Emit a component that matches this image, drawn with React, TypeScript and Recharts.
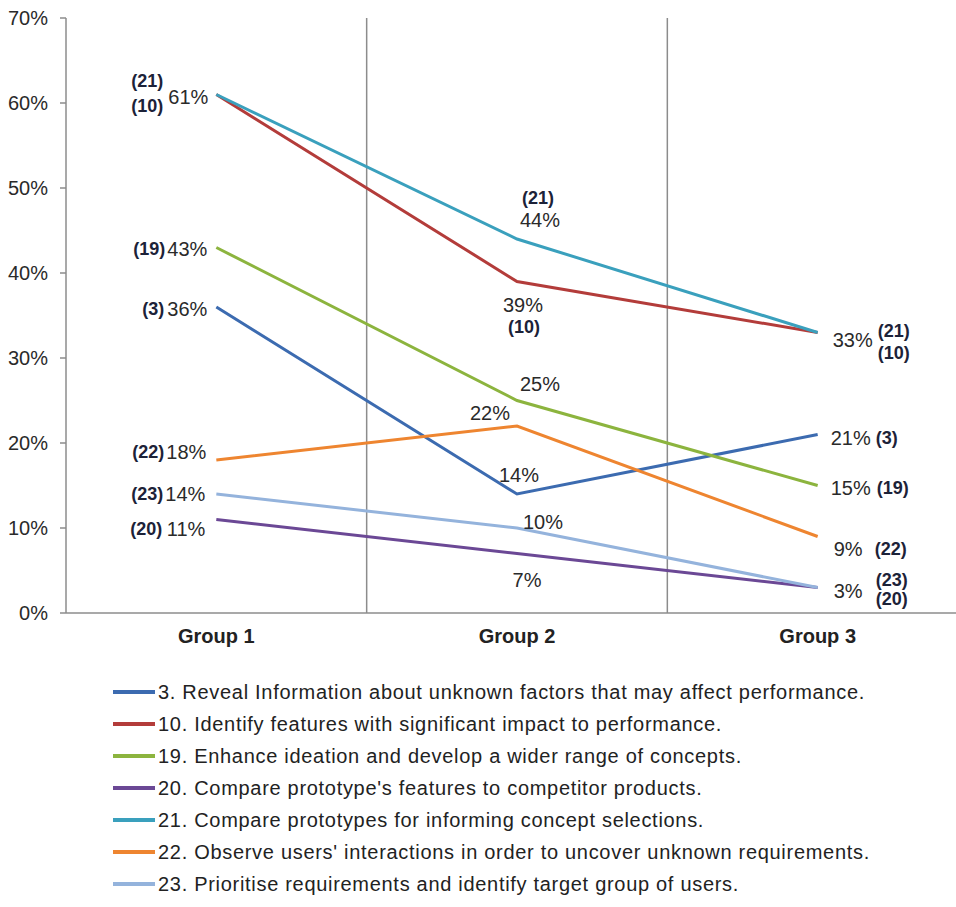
import { LineChart, Line, XAxis, YAxis, ReferenceLine, Legend, LabelList } from "recharts";

const groups = ["Group 1", "Group 2", "Group 3"];
const yTicks = [0, 10, 20, 30, 40, 50, 60, 70];

const s3 = [36, 14, 21];
const s10 = [61, 39, 33];
const s19 = [43, 25, 15];
const s20 = [11, 7, 3];
const s21 = [61, 44, 33];
const s22 = [18, 22, 9];
const s23 = [14, 10, 3];

const ids = ["3", "10", "19", "20", "21", "22", "23"];
const names = [
  "3. Reveal Information about unknown factors that may affect performance.",
  "10. Identify features with significant impact to performance.",
  "19. Enhance ideation and develop a wider range of concepts.",
  "20. Compare prototype's features to competitor products.",
  "21. Compare prototypes for informing concept selections.",
  "22. Observe users' interactions in order to uncover unknown requirements.",
  "23. Prioritise requirements and identify target group of users.",
];
const colors = ["#3c6bb0", "#b33c3a", "#8cb43e", "#6b4895", "#3aa0bd", "#ee8530", "#94b3dc"];
const values = [s3, s10, s19, s20, s21, s22, s23];

const data = groups.map((g, i) => {
  const row: Record<string, number | string> = { x: i + 0.5, name: g };
  ids.forEach((id, k) => {
    row["s" + id] = values[k][i];
  });
  return row;
});

type Place = [number, number, "start" | "middle" | "end"] | null;
// label placement per series, per group: [value label, id label]
const placements: Record<string, [Place, Place][]> = {
  "3": [[[-9, 2, "end"], [-52, 2, "end"]], [[2, -19, "middle"], null], [[13, 3, "start"], [58, 3, "start"]]],
  "10": [[null, [-53, 11, "end"]], [[6, 23, "middle"], [7, 45, "middle"]], [null, [60, 20, "start"]]],
  "19": [[[-9, 1, "end"], [-51, 1, "end"]], [[23, -17, "middle"], null], [[13, 2, "start"], [59, 2, "start"]]],
  "20": [[[-11, 9, "end"], [-54, 9, "end"]], [[10, 26, "middle"], null], [null, [58, 11, "start"]]],
  "21": [[[-8, 2, "end"], [-53, -14, "end"]], [[23, -19, "middle"], [21, -41, "middle"]], [[15, 7, "start"], [60, -2, "start"]]],
  "22": [[[-10, -8, "end"], [-52, -8, "end"]], [[-27, -13, "middle"], null], [[16, 12, "start"], [57, 12, "start"]]],
  "23": [[[-11, 0, "end"], [-53, 0, "end"]], [[26, -6, "middle"], null], [[16, 3, "start"], [58, -8, "start"]]],
};

const font = "'Liberation Sans', Arial, sans-serif";

const makeLabel = (id: string) => (props: any) => {
  const { x, y, value, index } = props;
  const p = placements[id][index];
  if (!p) return null;
  const [v, n] = p;
  return (
    <g>
      {v && (
        <text x={x + v[0]} y={y + v[1]} textAnchor={v[2]} dominantBaseline="central" fontSize={20} fill="#2a2a2a" fontFamily={font}>
          {`${value}%`}
        </text>
      )}
      {n && (
        <text x={x + n[0]} y={y + n[1]} textAnchor={n[2]} dominantBaseline="central" fontSize={18} fontWeight="bold" fill="#1c2238" fontFamily={font}>
          {`(${id})`}
        </text>
      )}
    </g>
  );
};

const renderLegend = () => (
  <div style={{ fontFamily: font, fontSize: 20, letterSpacing: 0.7, color: "#222" }}>
    {names.map((n, i) => (
      <div key={n} style={{ display: "flex", alignItems: "center", height: 32, whiteSpace: "nowrap" }}>
        <svg width={45} height={32}>
          <line x1={0} y1={16} x2={42} y2={16} stroke={colors[i]} strokeWidth={4} />
        </svg>
        <span>{n}</span>
      </div>
    ))}
  </div>
);

export default function App() {
  return (
    <div style={{ position: "absolute", left: 0, top: 0, width: 956, height: 907, overflow: "hidden", background: "#fff" }}>
      <LineChart width={968} height={907} data={data} margin={{ top: 18, right: 0, left: 0, bottom: 254 }}>
        <XAxis
          type="number"
          dataKey="x"
          domain={[0, 3]}
          ticks={[0.5, 1.5, 2.5]}
          tickFormatter={(v: number) => groups[Math.floor(v)]}
          tickLine={false}
          tickMargin={10}
          axisLine={{ stroke: "#8c8c8c", strokeWidth: 1.5 }}
          tick={{ fontSize: 20, fontWeight: "bold", fill: "#222", fontFamily: font }}
          height={40}
        />
        <YAxis
          domain={[0, 70]}
          ticks={yTicks}
          tickFormatter={(v: number) => `${v}%`}
          width={66}
          tickSize={6}
          tickMargin={12}
          axisLine={{ stroke: "#8c8c8c", strokeWidth: 1.5 }}
          tickLine={{ stroke: "#8c8c8c", strokeWidth: 1.5 }}
          tick={{ fontSize: 20, fill: "#2a2a2a", fontFamily: font }}
        />
        <ReferenceLine x={1} stroke="#8c8c8c" strokeWidth={1.5} />
        <ReferenceLine x={2} stroke="#8c8c8c" strokeWidth={1.5} />
        {ids.map((id, k) => (
          <Line
            key={id}
            type="linear"
            dataKey={"s" + id}
            name={names[k]}
            stroke={colors[k]}
            strokeWidth={3}
            dot={false}
            activeDot={false}
            isAnimationActive={false}
          >
            <LabelList dataKey={"s" + id} content={makeLabel(id)} />
          </Line>
        ))}
        <Legend
          layout="vertical"
          align="center"
          verticalAlign="middle"
          content={renderLegend}
          wrapperStyle={{ left: 113, top: 676, width: "auto" }}
        />
      </LineChart>
    </div>
  );
}
